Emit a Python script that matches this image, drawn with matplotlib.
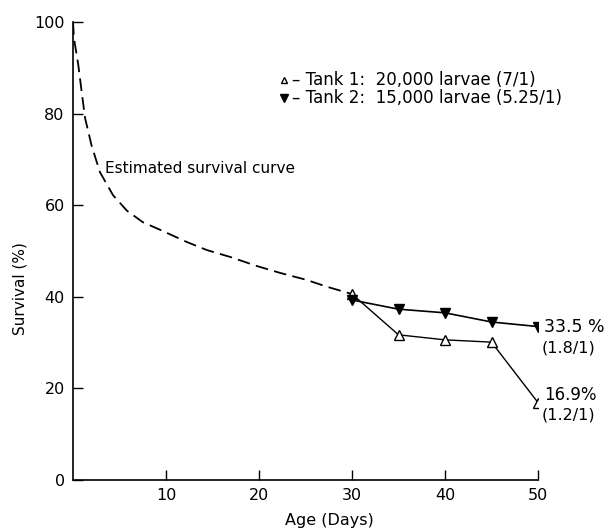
import matplotlib
matplotlib.use("Agg")
import matplotlib.pyplot as plt

# Estimated survival curve (dashed)
curve_days = [0, 0.1, 0.57, 0.93, 1.3, 2.0, 2.9, 4.3, 5.8, 7.5, 9.4, 12.2, 14.4,
              16.9, 19.8, 22.3, 25.1, 27.3, 30.0]
curve_surv = [100, 96.5, 90.6, 84.8, 79.0, 73.0, 67.2, 62.2, 58.8, 56.3, 54.6, 52.0, 50.2,
              48.7, 46.7, 45.2, 43.7, 42.2, 40.6]

# Measured survival in the two tanks
days = [30, 35, 40, 45, 50]
tank1 = [40.6, 31.7, 30.6, 30.1, 16.9]
tank2 = [39.3, 37.3, 36.5, 34.5, 33.5]

xticks = [10, 20, 30, 40, 50]
yticks = [0, 20, 40, 60, 80, 100]

plt.rcParams["font.family"] = ["DejaVu Sans"]
fig = plt.figure(figsize=(6.07, 5.30), dpi=100)
ax = fig.add_axes([73 / 607, 50 / 530, 465 / 607, 458 / 530])

ax.plot(curve_days, curve_surv, color="black", lw=1.3, ls=(0, (7, 3.5)))
ax.plot(days, tank1, color="black", lw=1.0, marker="^", ms=7.5,
        mfc="white", mec="black", mew=1.0, zorder=3)
ax.plot(days, tank2, color="black", lw=1.2, marker="v", ms=7.5,
        mfc="black", mec="black", zorder=4)

ax.set_xlim(0, 50)
ax.set_ylim(0, 100)
ax.set_xticks(xticks)
ax.set_yticks(yticks)
ax.tick_params(direction="in", length=7, width=1.0, labelsize=11.5, pad=6)
for side in ("top", "right"):
    ax.spines[side].set_visible(False)
for side in ("left", "bottom"):
    ax.spines[side].set_linewidth(1.2)

ax.set_xlabel("Age (Days)", fontsize=11.5)
ax.xaxis.set_label_coords((329 - 73) / 465, -0.072)
ax.set_ylabel("Survival (%)", fontsize=11)
ax.yaxis.set_label_coords(-0.098, (480 - 289) / 458)

# legend drawn as text rows with marker symbols
ax.plot([22.7], [87.4], marker="^", ms=5, mfc="white", mec="black", ls="none", clip_on=False)
ax.plot([22.7], [83.5], marker="v", ms=6, mfc="black", mec="black", ls="none", clip_on=False)
ax.text(23.6, 87.4, "– Tank 1:  20,000 larvae (7/1)", fontsize=12, va="center")
ax.text(23.6, 83.5, "– Tank 2:  15,000 larvae (5.25/1)", fontsize=12, va="center")

ax.text(3.4, 68.0, "Estimated survival curve", fontsize=11, va="center")

ax.text(50.6, tank2[-1], "33.5 %", fontsize=12.5, va="center")
ax.text(50.4, tank2[-1] - 4.6, "(1.8/1)", fontsize=11.5, va="center")
ax.text(50.7, tank1[-1] + 1.6, "16.9%", fontsize=12, va="center")
ax.text(50.4, tank1[-1] - 2.6, "(1.2/1)", fontsize=11.5, va="center")

fig.savefig("out.png", dpi=100)
